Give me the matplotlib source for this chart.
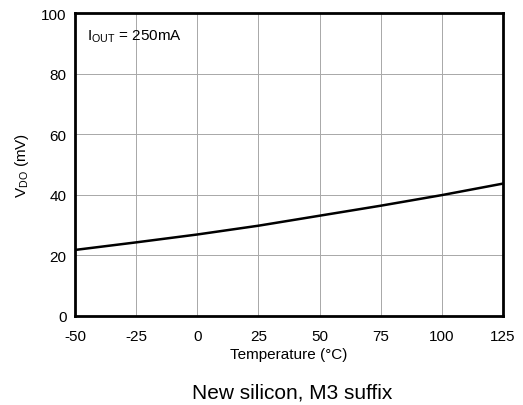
import matplotlib
matplotlib.use("Agg")
import matplotlib.pyplot as plt

temps = [-50, -25, 0, 25, 50, 75, 85, 100, 125]
vdo = [21.8, 24.3, 26.9, 29.8, 33.1, 36.4, 37.8, 39.9, 43.7]
xticks = [-50, -25, 0, 25, 50, 75, 100, 125]
yticks = [0, 20, 40, 60, 80, 100]

plt.rcParams['font.family'] = ['Liberation Sans', 'DejaVu Sans']
plt.rcParams['mathtext.fontset'] = 'custom'
plt.rcParams['mathtext.rm'] = 'Liberation Sans'
plt.rcParams['axes.unicode_minus'] = False

fig = plt.figure(figsize=(5.23, 4.06), dpi=100)
ax = fig.add_axes([75/523, 1-317/406, 428/523, 303/406])
ax.plot(temps, vdo, color='black', lw=1.8)
ax.set_xlim(-50, 125)
ax.set_ylim(0, 100)
ax.set_xticks(xticks)
ax.set_yticks(yticks)
ax.tick_params(length=0, labelsize=11)
ax.tick_params(axis='x', pad=9.5)
ax.tick_params(axis='y', pad=6)
ax.grid(True, color='#a8a8a8', lw=0.7)
for s in ax.spines.values():
    s.set_linewidth(2)
    s.set_color('black')
ax.set_xlabel('Temperature (°C)', fontsize=11, labelpad=3)
ax.set_ylabel(r'V$_{\mathregular{DO}}$ (mV)', fontsize=11, labelpad=7)
ax.text(0.028, 0.924, r'I$_{\mathregular{OUT}}$ = 250mA', transform=ax.transAxes,
        fontsize=11, va='center', ha='left')
fig.text(292/523, 1-393/406, 'New silicon, M3 suffix', fontsize=15, ha='center', va='center')
fig.savefig('out.png', dpi=100)
